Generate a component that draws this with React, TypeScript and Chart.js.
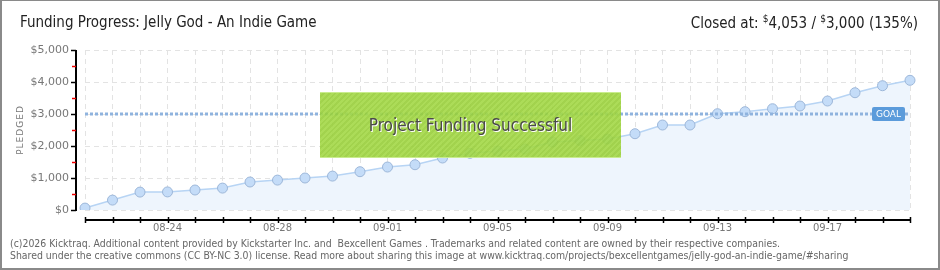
import React, { useEffect, useRef } from "react";
import { Chart, registerables } from "chart.js";

Chart.register(...registerables);

const DATES = [
  "08-21", "08-22", "08-23", "08-24", "08-25", "08-26", "08-27", "08-28",
  "08-29", "08-30", "08-31", "09-01", "09-02", "09-03", "09-04", "09-05",
  "09-06", "09-07", "09-08", "09-09", "09-10", "09-11", "09-12", "09-13",
  "09-14", "09-15", "09-16", "09-17", "09-18", "09-19", "09-20",
];
const SHOWN_X_LABELS = ["08-24", "08-28", "09-01", "09-05", "09-09", "09-13", "09-17"];
const PLEDGED = [
  60, 310, 560, 565, 625, 685, 875, 935, 1000, 1060, 1197,
  1343, 1415, 1625, 1770, 1843, 1906, 2125, 2175, 2218, 2384,
  2656, 2656, 3009, 3072, 3165, 3250, 3406, 3665, 3884, 4053,
];
const GOAL = 3000;
const Y_TICKS = [0, 1000, 2000, 3000, 4000, 5000];
const Y_MINOR_TICKS = [500, 1500, 2500, 3500, 4500];

const axesPlugin = {
  id: "kAxes",
  afterDraw(chart: any) {
    const { ctx, chartArea, scales } = chart;
    const x = scales.x;
    const y = scales.y;
    const ax = chartArea.left - 9;
    const ay = chartArea.bottom + 10;
    ctx.save();
    // y axis
    ctx.strokeStyle = "#000";
    ctx.lineWidth = 2;
    ctx.beginPath();
    ctx.moveTo(ax, y.getPixelForValue(5000));
    ctx.lineTo(ax, y.getPixelForValue(0) + 1);
    ctx.stroke();
    ctx.lineWidth = 1.5;
    for (const v of Y_TICKS) {
      const py = Math.round(y.getPixelForValue(v)) + 0.5;
      ctx.strokeStyle = "#000";
      ctx.beginPath();
      ctx.moveTo(ax - 5, py);
      ctx.lineTo(ax, py);
      ctx.stroke();
    }
    for (const v of Y_MINOR_TICKS) {
      const py = Math.round(y.getPixelForValue(v)) + 0.5;
      ctx.strokeStyle = "#e00";
      ctx.beginPath();
      ctx.moveTo(ax - 4, py);
      ctx.lineTo(ax, py);
      ctx.stroke();
    }
    // x axis
    ctx.strokeStyle = "#000";
    ctx.lineWidth = 2;
    ctx.beginPath();
    ctx.moveTo(chartArea.left, ay);
    ctx.lineTo(chartArea.right + 1, ay);
    ctx.stroke();
    ctx.lineWidth = 1.5;
    for (let i = 0; i < DATES.length; i++) {
      const px = Math.round(x.getPixelForValue(i)) + 0.5;
      ctx.beginPath();
      ctx.moveTo(px, ay - 3);
      ctx.lineTo(px, ay + 3);
      ctx.stroke();
    }
    // goal label
    const gy = y.getPixelForValue(GOAL);
    const gx = chartArea.right - 38;
    ctx.fillStyle = "#5b9bdb";
    ctx.beginPath();
    (ctx as any).roundRect(gx, gy - 7, 33, 14, 2);
    ctx.fill();
    ctx.fillStyle = "#fff";
    ctx.font = "9px 'DejaVu Sans'";
    ctx.textAlign = "center";
    ctx.textBaseline = "middle";
    ctx.fillText("GOAL", gx + 16.5, gy + 0.5);
    ctx.restore();
  },
};

export default function App() {
  const ref = useRef<HTMLCanvasElement>(null);
  useEffect(() => {
    document.body.style.margin = "0";
    const chart = new Chart(ref.current!, {
      type: "line",
      data: {
        labels: DATES,
        datasets: [
          {
            data: DATES.map(() => GOAL),
            borderColor: "#8fb3de",
            borderWidth: 3,
            borderDash: [3, 2],
            pointRadius: 0,
            fill: false,
            order: 0,
          },
          {
            data: PLEDGED,
            borderColor: "#b7d4f4",
            borderWidth: 1.5,
            backgroundColor: "#eef5fd",
            fill: "origin",
            pointRadius: 5,
            pointBackgroundColor: "#c4dcf8",
            pointBorderColor: "#9db7d9",
            pointBorderWidth: 1,
            tension: 0,
            order: 1,
          },
        ],
      },
      options: {
        animation: false,
        responsive: false,
        maintainAspectRatio: false,
        layout: { padding: { left: 0, right: 30, top: 50, bottom: 30 } },
        plugins: { legend: { display: false }, tooltip: { enabled: false } },
        scales: {
          x: {
            type: "category",
            offset: false,
            grid: { color: "#e3e3e3", lineWidth: 1, drawTicks: false },
            border: { display: false, dash: [5, 4] },
            ticks: {
              autoSkip: false,
              maxRotation: 0,
              padding: 12,
              color: "#777",
              font: { family: "'DejaVu Sans'", size: 10 },
              callback: (_v: any, i: number) =>
                SHOWN_X_LABELS.includes(DATES[i]) ? DATES[i] : "",
            },
            afterFit: (s: any) => {
              s.height = 30;
            },
          },
          y: {
            min: 0,
            max: 5000,
            grid: { color: "#e3e3e3", lineWidth: 1, drawTicks: false },
            border: { display: false, dash: [5, 4] },
            ticks: {
              stepSize: 1000,
              padding: 16,
              color: "#777",
              font: { family: "'DejaVu Sans'", size: 11 },
              callback: (v: any) => "$" + Number(v).toLocaleString("en-US"),
            },
            afterFit: (s: any) => {
              s.width = 85;
            },
          },
        },
      },
      plugins: [axesPlugin],
    });
    return () => chart.destroy();
  }, []);

  return (
    <div
      style={{
        position: "fixed",
        left: 0,
        top: 0,
        width: 940,
        height: 270,
        background: "#fff",
        overflow: "hidden",
      }}
    >
      <canvas ref={ref} width={940} height={270} style={{ position: "absolute", left: 0, top: 0 }} />
      <div
        style={{
          position: "absolute",
          left: 0,
          top: 0,
          width: 936,
          height: 267,
          borderTop: "1px solid #8a8a8a",
          borderLeft: "2px solid #8a8a8a",
          borderRight: "2px solid #8a8a8a",
          borderBottom: "2px solid #8a8a8a",
          pointerEvents: "none",
        }}
      />
      <div
        style={{
          position: "absolute",
          left: 20,
          top: 13,
          fontFamily: "'DejaVu Sans Condensed'",
          fontSize: 15,
          color: "#222",
          whiteSpace: "nowrap",
        }}
      >
        Funding Progress: Jelly God - An Indie Game
      </div>
      <div
        style={{
          position: "absolute",
          right: 22,
          top: 13,
          fontFamily: "'DejaVu Sans Condensed'",
          fontSize: 15,
          color: "#222",
          whiteSpace: "nowrap",
        }}
      >
        Closed at: <sup style={{ fontSize: 10 }}>$</sup>4,053 / <sup style={{ fontSize: 10 }}>$</sup>3,000 (135%)
      </div>
      <div
        style={{
          position: "absolute",
          left: 13,
          top: 130,
          transform: "translate(-50%, -50%) rotate(-90deg)",
          fontFamily: "'DejaVu Sans'",
          fontSize: 9,
          letterSpacing: 1,
          color: "#777",
          whiteSpace: "nowrap",
          transformOrigin: "center",
          marginLeft: 7,
        }}
      >
        PLEDGED
      </div>
      <div
        style={{
          position: "absolute",
          left: 320,
          top: 92,
          width: 301,
          height: 66,
          boxSizing: "border-box",
          borderTop: "1px solid #c9ec8e",
          borderBottom: "1px solid #c9ec8e",
          background:
            "repeating-linear-gradient(135deg, rgba(163,216,70,0.9) 0px, rgba(163,216,70,0.9) 2px, rgba(152,206,58,0.9) 2px, rgba(152,206,58,0.9) 4px)",
          display: "flex",
          alignItems: "center",
          justifyContent: "center",
          fontFamily: "'DejaVu Sans Condensed'",
          fontSize: 17,
          color: "#4a4a4a",
          textShadow: "1px 1px 0 #fff",
        }}
      >
        Project Funding Successful
      </div>
      <div
        style={{
          position: "absolute",
          left: 10,
          top: 237,
          fontFamily: "'DejaVu Sans Condensed'",
          fontSize: 10.4,
          lineHeight: "12px",
          color: "#666",
          whiteSpace: "nowrap",
        }}
      >
        (c)2026 Kicktraq. Additional content provided by Kickstarter Inc. and&nbsp; Bexcellent Games . Trademarks and related content are owned by their respective companies.
        <br />
        Shared under the creative commons (CC BY-NC 3.0) license. Read more about sharing this image at www.kicktraq.com/projects/bexcellentgames/jelly-god-an-indie-game/#sharing
      </div>
    </div>
  );
}
